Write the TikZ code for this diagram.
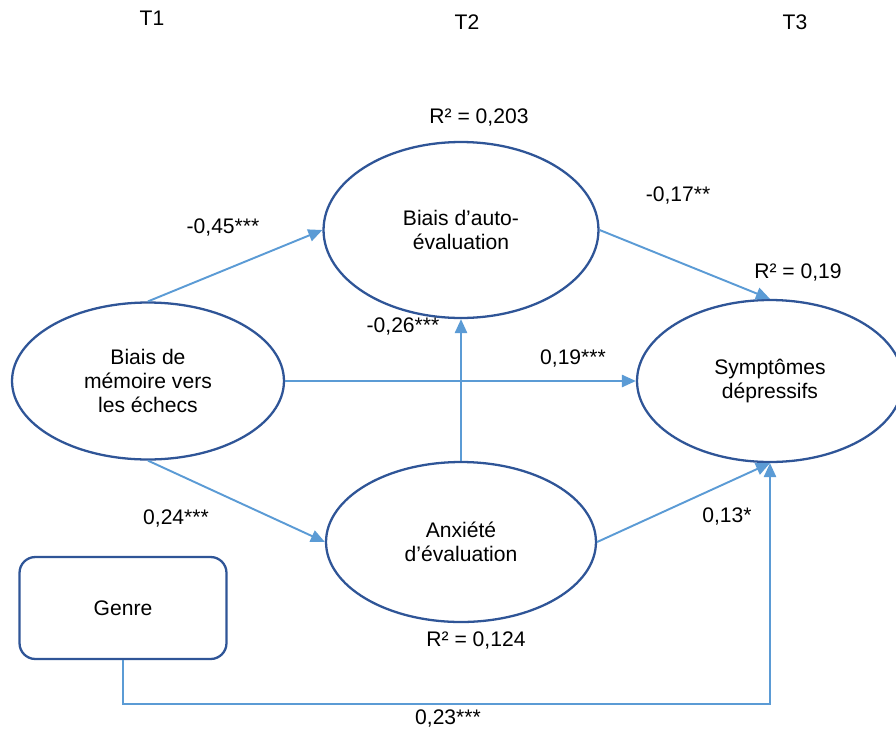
\documentclass[tikz,border=0pt]{standalone}
\usepackage{fontspec}
\setmainfont{Liberation Sans}
\usepackage{tikz}
\usetikzlibrary{shapes.geometric,arrows.meta,positioning}
\definecolor{darkblue}{HTML}{2F5597}
\definecolor{lightblue}{HTML}{5B9BD5}

\begin{document}
\begin{tikzpicture}[x=0.02cm,y=-0.02cm,
  every node/.style={font=\fontsize{12}{13.5}\selectfont},
  var/.style={ellipse,draw=darkblue,line width=1.3pt,align=center,inner sep=0pt},
  path/.style={draw=lightblue,line width=1.1pt,-{Triangle[length=8pt,width=7pt]}}]
\useasboundingbox (0,0) rectangle (896,734);
% times
\node (t1) at (152,18) {T1};
\node (t2) at (467,22) {T2};
\node (t3) at (795,22) {T3};
% variables
\node[var, minimum width=5.44cm, minimum height=3.14cm] (memo) at (148,381) {Biais de\\mémoire vers\\les échecs};
\node[var, minimum width=5.5cm, minimum height=3.52cm] (auto) at (461,230) {Biais d’auto-\\évaluation};
\node[var, minimum width=5.4cm, minimum height=3.2cm] (anx) at (461,542) {Anxiété\\d’évaluation};
\node[var, minimum width=5.32cm, minimum height=3.24cm] (symp) at (770,381) {Symptômes\\dépressifs};
\node[draw=darkblue, line width=1.3pt, rounded corners=9pt, minimum width=4.14cm, minimum height=2.04cm] (genre) at (123,608) {Genre};
% paths
\draw[path] (memo.north) -- (auto.west);
\draw[path] (auto.east) -- (symp.north);
\draw[path] (memo.east) -- (symp.west);
\draw[path] (memo.south) -- (anx.west);
\draw[path] (anx.north) -- (auto.south);
\draw[path] (anx.east) -- (symp.south);
\draw[path] (genre.south) -- ++(0,44) -| (symp.south);
% coefficients
\node (c1) at (223,227) {-0,45***};
\node (c2) at (678,195) {-0,17**};
\node (c3) at (403,326) {-0,26***};
\node (c4) at (573,358) {0,19***};
\node (c5) at (176,518) {0,24***};
\node (c6) at (727,516) {0,13*};
\node (c7) at (448,718) {0,23***};
% variance
\node (r1) at (479,117) {R² = 0,203};
\node (r2) at (798,272) {R² = 0,19};
\node (r3) at (476,640) {R² = 0,124};
\end{tikzpicture}
\end{document}
